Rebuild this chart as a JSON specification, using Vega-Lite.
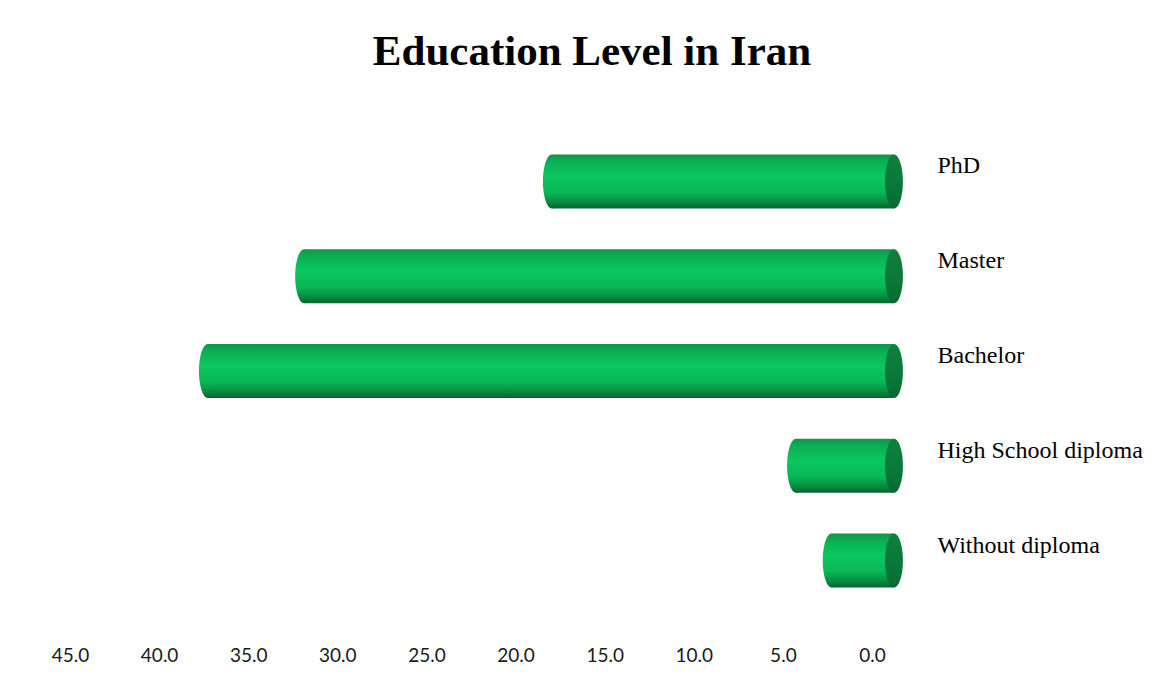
{
  "$schema": "https://vega.github.io/schema/vega-lite/v6.json",
  "width": 802,
  "height": 474,
  "autosize": {"type": "none"},
  "padding": {"left": 70, "top": 134, "right": 298, "bottom": 76},
  "background": "white",
  "title": {
    "text": "Education Level in Iran",
    "font": "Liberation Serif",
    "fontSize": 43,
    "fontWeight": "bold",
    "color": "#000000",
    "anchor": "middle",
    "dx": 121,
    "offset": 60
  },
  "data": {
    "values": [
      {"level": "PhD", "percent": 19.2},
      {"level": "Master", "percent": 33.1},
      {"level": "Bachelor", "percent": 38.5},
      {"level": "High School diploma", "percent": 5.5},
      {"level": "Without diploma", "percent": 3.5}
    ]
  },
  "encoding": {
    "y": {
      "field": "level",
      "type": "nominal",
      "sort": null,
      "scale": {"paddingInner": 0.43, "paddingOuter": 0.215},
      "axis": {
        "orient": "right",
        "title": null,
        "domain": false,
        "ticks": false,
        "labelPadding": 65,
        "labelAlign": "left",
        "labelBaseline": "alphabetic",
        "labelOffset": -8,
        "labelFont": "Liberation Serif",
        "labelFontSize": 24,
        "labelColor": "#000000",
        "labelLimit": 300
      }
    }
  },
  "layer": [
    {
      "mark": {
        "type": "bar",
        "xOffset": 22,
        "x2Offset": 22,
        "color": {
          "gradient": "linear",
          "x1": 0, "y1": 0, "x2": 0, "y2": 1,
          "stops": [
            {"offset": 0, "color": "#16924a"},
            {"offset": 0.12, "color": "#0aae52"},
            {"offset": 0.4, "color": "#0bc75f"},
            {"offset": 0.7, "color": "#0ab757"},
            {"offset": 0.88, "color": "#078c40"},
            {"offset": 1, "color": "#05642c"}
          ]
        }
      },
      "encoding": {
        "x": {
          "field": "percent",
          "type": "quantitative",
          "scale": {"domain": [0, 45], "reverse": true, "nice": false},
          "axis": {
            "orient": "bottom",
            "title": null,
            "values": [0, 5, 10, 15, 20, 25, 30, 35, 40, 45],
            "format": ".1f",
            "domain": false,
            "ticks": false,
            "grid": false,
            "labelFlush": false,
            "labelOverlap": false,
            "labelPadding": 38,
            "labelFont": "Lato",
            "labelFontSize": 19,
            "labelColor": "#1a1a1a"
          }
        },
        "x2": {"datum": 0}
      }
    },
    {
      "mark": {
        "type": "point",
        "filled": true,
        "opacity": 1,
        "xOffset": 22,
        "shape": "M0,-1A0.33,1,0,1,1,0,1A0.33,1,0,1,1,0,-1Z",
        "size": 2916,
        "strokeWidth": 0,
        "color": {
          "gradient": "linear",
          "x1": 0, "y1": 0, "x2": 0, "y2": 1,
          "stops": [
            {"offset": 0, "color": "#16924a"},
            {"offset": 0.12, "color": "#0aae52"},
            {"offset": 0.4, "color": "#0bc75f"},
            {"offset": 0.7, "color": "#0ab757"},
            {"offset": 0.88, "color": "#078c40"},
            {"offset": 1, "color": "#05642c"}
          ]
        }
      },
      "encoding": {
        "x": {"field": "percent", "type": "quantitative"}
      }
    },
    {
      "mark": {
        "type": "point",
        "filled": true,
        "opacity": 1,
        "xOffset": 22,
        "shape": "M0,-1A0.33,1,0,1,1,0,1A0.33,1,0,1,1,0,-1Z",
        "size": 2916,
        "strokeWidth": 0,
        "color": {
          "gradient": "linear",
          "x1": 0, "y1": 0, "x2": 0, "y2": 1,
          "stops": [
            {"offset": 0, "color": "#0e7f3e"},
            {"offset": 0.5, "color": "#0a7a3b"},
            {"offset": 1, "color": "#076a32"}
          ]
        }
      },
      "encoding": {
        "x": {"datum": 0, "type": "quantitative"}
      }
    }
  ],
  "config": {
    "view": {"stroke": null}
  }
}
